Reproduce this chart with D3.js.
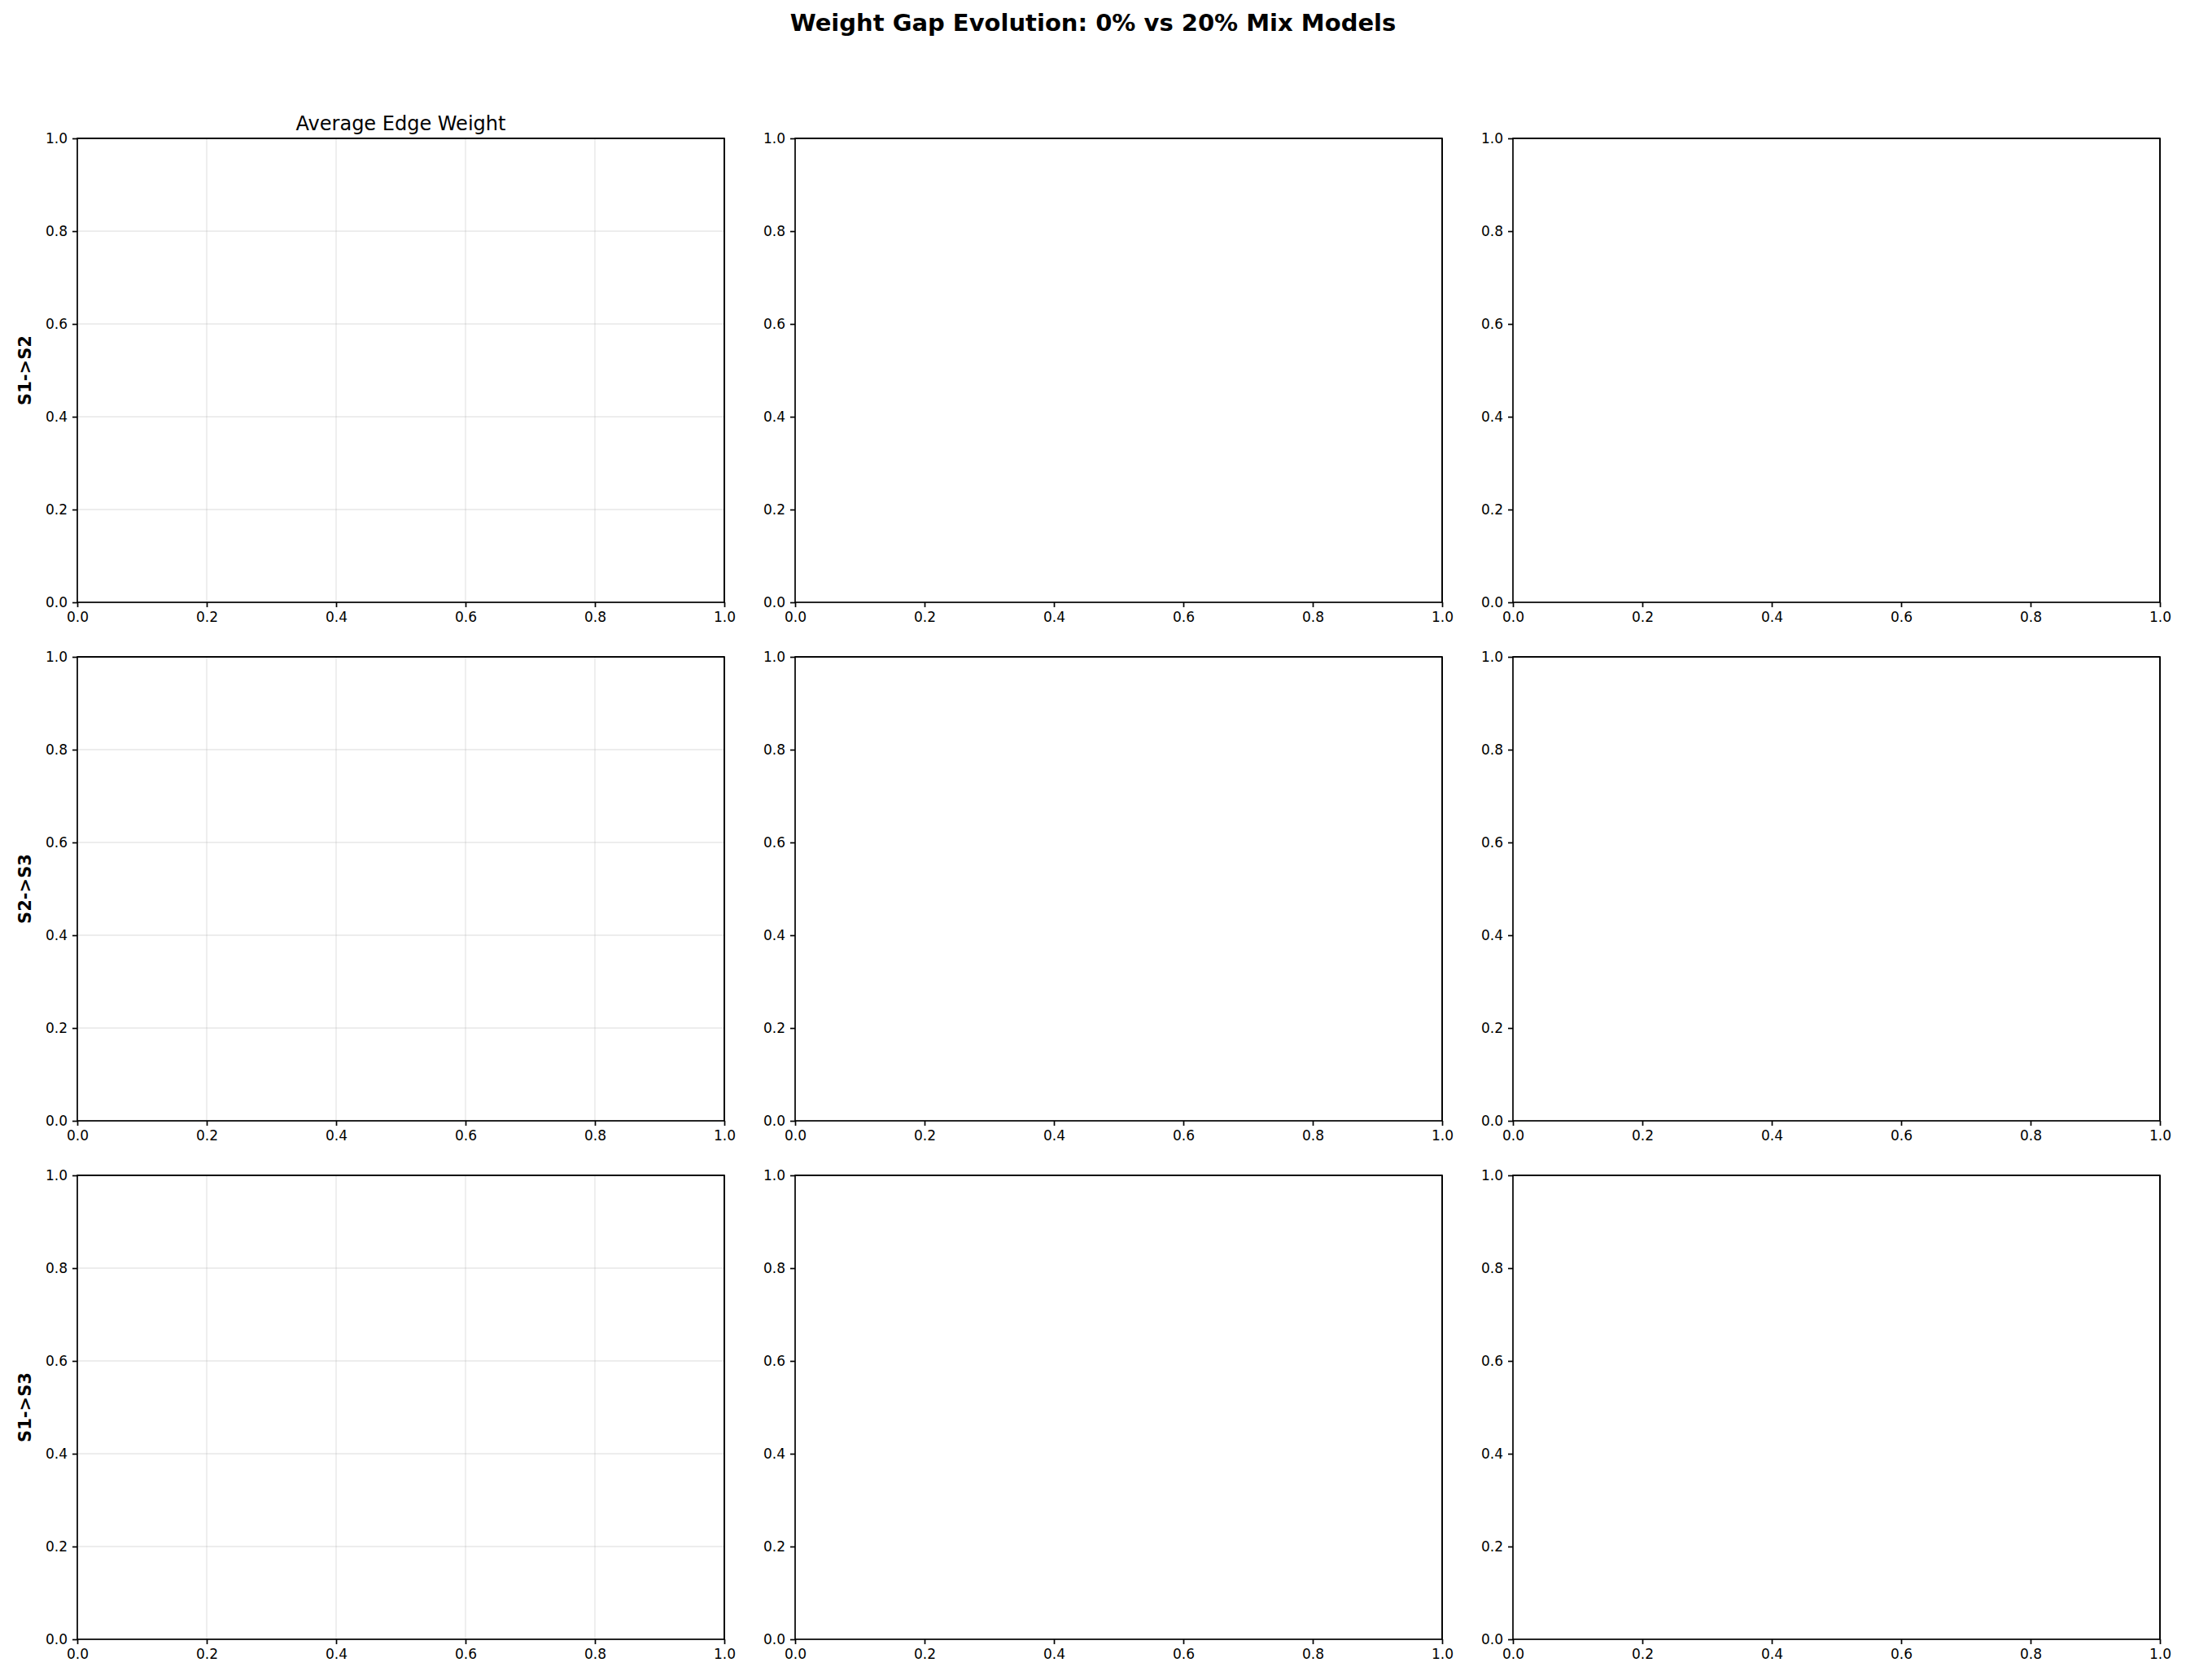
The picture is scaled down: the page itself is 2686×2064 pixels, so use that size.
<!DOCTYPE html>
<html lang="en">
<head>
  <meta charset="utf-8">
  <title>Weight Gap Evolution</title>
  <style>
    body { margin: 0; background: white; }
    svg text { font-family: "DejaVu Sans", sans-serif; fill: black; }
    .tick text { font-size: 17px; }
    .tick line, .domain { stroke: black; stroke-width: 1.7; }
  </style>
</head>
<body>
<div id="chart"></div>
<script src="https://d3js.org/d3.v7.min.js"></script>
<script>
  var title = "Weight Gap Evolution: 0% vs 20% Mix Models";
  var rowLabels = ["S1->S2", "S2->S3", "S1->S3"];
  var colTitles = ["Average Edge Weight", "", ""];
  var gridCols = [true, false, false];
  var ticks = [0, 0.2, 0.4, 0.6, 0.8, 1.0];

  var W = 2686, H = 2064;
  var lefts = [95, 977, 1859], w = 795;
  var tops = [170, 807, 1444], h = 570;

  var svg = d3.select("#chart").append("svg")
    .attr("width", W).attr("height", H);

  svg.append("text").attr("x", W / 2).attr("y", 38)
    .attr("text-anchor", "middle").style("font-size", "29px").style("font-weight", "bold")
    .text(title);

  rowLabels.forEach(function (rl, r) {
    colTitles.forEach(function (ct, c) {
      var g = svg.append("g").attr("transform", "translate(" + lefts[c] + "," + tops[r] + ")");
      var x = d3.scaleLinear().domain([0, 1]).range([0, w]);
      var y = d3.scaleLinear().domain([0, 1]).range([h, 0]);
      if (gridCols[c]) {
        g.selectAll(".gx").data(ticks).enter().append("line")
          .attr("x1", x).attr("x2", x).attr("y1", 0).attr("y2", h)
          .attr("stroke", "#b0b0b0").attr("stroke-opacity", 0.3).attr("stroke-width", 1.4);
        g.selectAll(".gy").data(ticks).enter().append("line")
          .attr("y1", y).attr("y2", y).attr("x1", 0).attr("x2", w)
          .attr("stroke", "#b0b0b0").attr("stroke-opacity", 0.3).attr("stroke-width", 1.4);
      }
      g.append("g").attr("transform", "translate(0," + h + ")")
        .call(d3.axisBottom(x).tickValues(ticks).tickFormat(d3.format(".1f")).tickSize(6).tickPadding(6));
      g.append("g")
        .call(d3.axisLeft(y).tickValues(ticks).tickFormat(d3.format(".1f")).tickSize(6).tickPadding(6));
      g.append("line").attr("x1", w).attr("x2", w).attr("y1", 0).attr("y2", h).attr("stroke", "black").attr("stroke-width", 1.7);
      g.append("line").attr("x1", 0).attr("x2", w).attr("y1", 0).attr("y2", 0).attr("stroke", "black").attr("stroke-width", 1.7);
      g.selectAll(".domain").attr("d", null).remove();
      g.append("rect").attr("width", w).attr("height", h).attr("fill", "none").attr("stroke", "black").attr("stroke-width", 1.7);
      if (r === 0 && ct) {
        g.append("text").attr("x", w / 2).attr("y", -10).attr("text-anchor", "middle")
          .style("font-size", "24px").text(ct);
      }
      if (c === 0) {
        g.append("text").attr("transform", "translate(-57," + (h / 2) + ") rotate(-90)")
          .attr("text-anchor", "middle").style("font-size", "21px").style("font-weight", "bold").text(rl);
      }
    });
  });
</script>
</body>
</html>
